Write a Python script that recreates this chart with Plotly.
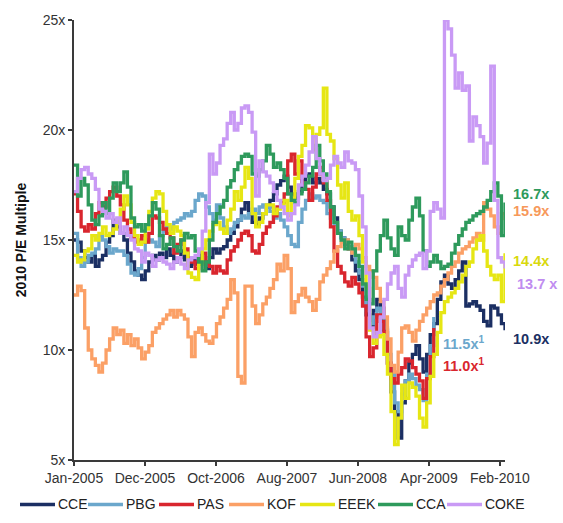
import pandas as pd
import plotly.graph_objects as go

# Semi-monthly sampling of the 2010 forward P/E multiple, Jan-2005 .. Feb-2010
dates = pd.date_range("2005-01-31", "2010-02-26", periods=122)

cce = [15.0, 14.9, 14.5, 14.2, 14.0, 14.3, 13.8, 14.1, 14.3, 14.9, 15.2, 15.9, 15.6, 15.3, 15.0, 14.4,
       14.0, 13.6, 13.4, 13.2, 13.6, 14.0, 14.3, 14.1, 14.4, 14.2, 14.6, 14.3, 14.0, 14.2, 14.5, 14.1,
       13.8, 14.2, 13.9, 14.3, 14.0, 13.7, 14.2, 14.6, 14.4, 14.6, 14.7, 15.0, 15.3, 15.6, 15.9, 16.4,
       16.7, 16.2, 15.8, 15.7, 16.0, 16.2, 16.5, 16.8, 17.1, 17.5, 17.7, 17.9, 17.4, 17.1, 16.9, 17.2,
       17.7, 17.9, 18.0, 17.6, 17.8, 17.6, 17.3, 17.1, 16.5, 16.0, 15.4, 15.1, 14.8, 14.6, 14.1, 13.6,
       13.2, 12.4, 11.6, 11.0, 11.8, 12.3, 11.9, 10.9, 9.4, 8.1, 7.2, 6.0, 7.6, 8.6, 9.4, 9.8,
       10.2, 9.6, 9.0, 9.8, 10.7, 11.2, 12.3, 13.1, 13.4, 13.0, 12.8, 13.2, 13.6, 14.0, 12.0, 12.1,
       12.2, 12.0, 11.8, 11.3, 11.1, 12.0, 11.9, 11.6, 11.2, 10.9]

pbg = [15.3, 14.2, 13.8, 14.0, 14.3, 14.4, 14.6, 15.2, 15.0, 14.7, 14.4, 14.6, 14.5, 14.5, 14.3, 13.9,
       13.5, 13.4, 13.7, 14.2, 14.9, 15.0, 14.9, 14.7, 15.2, 15.4, 15.6, 15.5, 15.8, 15.9, 16.0, 16.2,
       16.1, 16.3, 16.8, 17.1, 17.0, 16.5, 16.2, 15.9, 16.6, 16.0, 15.6, 15.3, 15.5, 15.8, 15.9, 16.1,
       16.0, 16.2, 16.4, 16.2, 16.5, 16.6, 16.5, 16.3, 16.0, 16.2, 15.9, 15.6, 15.2, 14.8, 14.7, 15.8,
       16.4, 16.8, 17.1, 16.9, 17.0, 16.8, 16.7, 16.2, 16.0, 15.7, 15.4, 15.1, 15.0, 14.7, 14.4, 14.0,
       13.5, 12.9, 11.8, 11.2, 11.5, 11.9, 11.6, 11.0, 9.8, 8.9, 7.6, 7.2, 8.0, 8.6, 8.9, 8.7,
       8.4, 8.2, 7.7, 8.9, 10.2, 11.5]

pas = [17.1, 16.3, 15.6, 15.4, 15.7, 15.5, 16.2, 16.7, 16.5, 16.9, 17.2, 17.4, 17.0, 16.6, 15.9, 15.5,
       15.1, 14.9, 15.0, 15.2, 14.9, 15.3, 16.1, 16.0, 15.8, 15.5, 15.3, 15.1, 14.4, 14.8, 15.0, 14.6,
       14.2, 14.0, 13.7, 14.1, 14.4, 14.0, 13.8, 13.5, 13.8, 13.6, 13.5, 14.1, 14.5, 14.7, 15.0, 15.3,
       15.4, 15.2, 14.5, 14.4, 14.8, 15.3, 15.6, 15.8, 16.1, 16.5, 16.7, 17.1, 18.6, 18.9, 18.0, 18.6,
       17.6, 17.3, 16.8, 17.4, 18.0, 18.3, 17.6, 16.8, 15.6, 14.5, 13.8, 13.5, 13.1, 12.9, 13.3, 13.0,
       12.6, 12.0, 10.6, 9.7, 10.1, 11.6, 11.3, 10.8, 9.4, 8.7, 8.5, 8.9, 9.2, 9.6, 9.5, 9.2,
       8.9, 8.6, 7.8, 8.7, 9.7, 11.0]

kof = [12.5, 12.9, 12.7, 11.0, 10.0, 9.6, 9.3, 9.0, 9.4, 10.0, 10.5, 11.0, 10.7, 10.9, 10.3, 10.7,
       10.2, 10.5, 10.1, 9.6, 9.9, 10.2, 10.8, 11.0, 11.2, 11.4, 11.6, 11.8, 11.5, 11.8, 11.6, 11.4,
       10.6, 9.7, 10.8, 11.0, 10.7, 10.4, 10.3, 10.6, 11.2, 11.5, 11.9, 12.3, 13.2, 12.6, 8.8, 8.5,
       12.9, 12.9, 12.0, 11.2, 11.6, 12.1, 12.4, 12.8, 13.2, 13.9, 13.6, 14.3, 13.7, 11.7, 12.2, 12.5,
       12.8, 12.4, 12.2, 11.8, 12.3, 13.1, 13.4, 13.7, 14.0, 14.5, 14.7, 14.9, 15.0, 14.6, 14.4, 14.8,
       14.6, 14.2, 13.8, 13.6, 13.3, 12.8, 12.2, 11.5, 10.5, 9.3, 9.0, 9.9, 11.0, 11.1, 10.8, 10.4,
       10.9, 11.3, 11.6, 11.9, 12.2, 12.5, 12.6, 12.9, 13.2, 13.5, 13.8, 14.0, 14.4, 14.6, 14.7, 14.9,
       15.1, 15.3, 15.0, 16.7, 16.4, 16.1, 15.6, 15.3, 16.2, 15.9]

eeek = [14.3, 14.0, 14.1, 14.5, 14.6, 15.2, 15.0, 15.3, 15.6, 15.2, 15.3, 15.5, 15.9, 16.4, 17.0, 16.6,
        15.8, 15.2, 14.8, 14.9, 15.5, 16.3, 16.9, 17.2, 17.1, 16.3, 15.7, 15.3, 15.6, 15.4, 15.2, 14.4,
        13.5, 13.3, 13.2, 13.9, 14.6, 15.0, 15.4, 15.7, 15.8, 15.5, 15.3, 15.9, 16.4, 17.2, 16.8, 17.4,
        18.3, 17.8, 16.2, 15.6, 15.8, 16.2, 16.6, 16.6, 16.2, 16.4, 16.6, 16.8, 16.1, 16.9, 17.8, 18.8,
        19.3, 20.2, 20.1, 19.1, 19.8, 20.1, 21.9, 19.8, 19.5, 18.7, 17.5, 16.9, 17.6, 16.3, 15.9, 16.1,
        15.2, 14.0, 12.8, 10.9, 10.3, 10.6, 10.7, 9.8, 8.9, 7.2, 5.7, 6.9, 8.4, 7.8, 8.5, 8.3,
        7.9, 6.9, 6.5, 7.6, 8.8, 9.8, 10.8, 11.7, 12.2, 12.4, 12.6, 12.8, 13.1, 13.4, 13.8, 14.0,
        14.6, 15.0, 15.2, 14.5, 13.8, 13.4, 13.2, 13.4, 12.2, 14.4]

cca = [18.4, 17.0, 17.8, 17.5, 16.6, 15.9, 15.7, 16.1, 16.7, 16.2, 16.9, 17.6, 17.2, 17.6, 18.1, 17.4,
       16.0, 15.6, 15.7, 15.4, 15.7, 16.1, 16.7, 16.4, 15.2, 14.6, 14.8, 15.1, 14.7, 14.5, 15.0, 15.3,
       15.1, 15.2, 14.5, 14.0, 13.6, 14.0, 15.0, 15.8, 16.2, 16.5, 16.8, 17.4, 17.7, 18.2, 18.5, 18.8,
       18.9, 18.8, 18.0, 17.9, 18.2, 18.6, 19.3, 18.9, 18.3, 18.5, 18.2, 17.8, 17.1, 16.8, 16.7, 17.1,
       17.3, 17.6, 17.9, 18.3, 19.3, 18.6, 18.0, 17.2, 16.5, 15.8, 15.3, 15.0, 14.6, 14.9, 14.6, 14.3,
       13.8, 13.0, 12.3, 12.1, 13.6, 14.5, 15.2, 15.9, 15.1, 14.6, 14.3, 15.6, 15.2, 15.0, 15.9, 16.5,
       16.9, 16.1, 14.5, 13.8, 14.0, 14.3, 14.0, 13.7, 13.8, 13.9, 14.4, 14.8, 15.2, 15.5, 15.8, 15.9,
       16.1, 16.2, 16.3, 16.5, 16.8, 17.2, 17.6, 17.0, 15.2, 16.7]

coke = [17.2, 17.8, 18.2, 18.3, 18.0, 17.8, 17.3, 16.4, 16.3, 16.0, 16.2, 15.8, 16.0, 15.3, 15.6, 15.2,
        15.0, 14.6, 14.5, 14.0, 14.4, 14.3, 13.8, 14.1, 14.2, 14.0, 13.9, 13.7, 14.0, 14.2, 13.9, 13.7,
        14.1, 14.2, 14.3, 14.6, 15.4, 16.7, 18.9, 18.0, 18.5, 19.3, 19.6, 20.3, 20.8, 20.0, 20.3, 21.0,
        21.1, 20.8, 19.9, 17.0, 18.6, 18.1, 17.9, 17.6, 17.2, 16.8, 16.5, 16.2, 15.9, 16.2, 16.6, 17.5,
        17.9, 18.4, 19.0, 19.7, 18.7, 18.0, 17.7, 17.8, 18.4, 18.8, 18.5, 18.3, 19.0, 18.6, 18.5, 18.2,
        17.0, 15.6, 13.5, 11.0, 10.6, 10.8, 11.5, 12.3, 13.0, 13.5, 13.8, 12.8, 12.4, 13.4, 13.8, 14.1,
        14.3, 14.4, 13.7, 14.5, 16.3, 16.7, 16.4, 16.0, 25.0, 24.6, 23.4, 21.9, 22.6, 21.8, 22.0, 19.5,
        20.6, 20.2, 19.7, 18.5, 19.4, 22.9, 16.8, 14.2, 14.0, 13.7]

names = ["CCE", "PBG", "PAS", "KOF", "EEEK", "CCA", "COKE"]
values = [cce, pbg, pas, kof, eeek, cca, coke]
colors = ["#1B2F63", "#6BA7CC", "#D9262E", "#FBA066", "#E6E614", "#2E9A5C", "#C99AF5"]

# End-of-period multiples printed beside the lines
end_labels = ["10.9x", "11.5x<sup>1</sup>", "11.0x<sup>1</sup>", "15.9x", "14.4x", "16.7x", "13.7 x"]
label_colors = ["#1B2F63", "#6BA7CC", "#D9262E", "#F7995A", "#D9D90C", "#2E9A5C", "#C08CF0"]

y_ticks = [5, 10, 15, 20, 25]
y_tick_text = ["5x", "10x", "15x", "20x", "25x"]
x_tick_dates = ["2005-01-31", "2005-12-02", "2006-10-03", "2007-08-04",
                "2008-06-04", "2009-04-05", "2010-02-04"]
x_tick_text = ["Jan-2005", "Dec-2005", "Oct-2006", "Aug-2007",
               "Jun-2008", "Apr-2009", "Feb-2010"]

FONT = "Arial, Liberation Sans, sans-serif"
W, H = 563, 523
ML, MR, MT, MB = 74, 58, 14, 63
PW, PH = W - ML - MR, H - MT - MB


def px_to_paper_x(px):
    return (px - ML) / PW


def px_to_paper_y(py):
    return (H - MB - py) / PH


fig = go.Figure()
for name, vals, col in zip(names, values, colors):
    fig.add_trace(go.Scatter(
        x=dates[:len(vals)], y=vals, mode="lines", name=name,
        line=dict(color=col, width=3.3, shape="hv"), showlegend=False,
    ))

# label placement in page pixels: (left x, data y)
label_pos = [(511, 10.5), (441, 10.3), (441, 9.3), (511, 16.3),
             (511, 14.05), (511, 17.1), (515, 13.0)]
for text, col, (lx, ly) in zip(end_labels, label_colors, label_pos):
    fig.add_annotation(
        x=px_to_paper_x(lx), y=ly, xref="paper", yref="y", text=text, showarrow=False,
        xanchor="left", yanchor="middle",
        font=dict(family=FONT, size=14.5, color=col, weight="bold"),
    )

# Legend row along the bottom: a line key followed by the series name
legend_left = [20, 88, 159, 229, 300, 378, 447]
legend_y = px_to_paper_y(505)
for name, col, lx in zip(names, colors, legend_left):
    fig.add_shape(
        type="line", xref="paper", yref="paper",
        x0=px_to_paper_x(lx), x1=px_to_paper_x(lx + 35), y0=legend_y, y1=legend_y,
        line=dict(color=col, width=3.5),
    )
    fig.add_annotation(
        x=px_to_paper_x(lx + 36), y=legend_y, xref="paper", yref="paper",
        text=name, showarrow=False, xanchor="left", yanchor="middle",
        font=dict(family=FONT, size=14, color="#222222"),
    )

axis_col = "#3A3A3A"
fig.update_layout(
    width=W, height=H,
    margin=dict(l=ML, r=MR, t=MT, b=MB),
    paper_bgcolor="white", plot_bgcolor="white",
    font=dict(family=FONT, color="#333333"),
    showlegend=False,
    xaxis=dict(
        type="date", range=["2005-01-31", "2010-02-26"],
        tickvals=x_tick_dates, ticktext=x_tick_text, tickangle=0,
        showgrid=False, zeroline=False,
        showline=True, linecolor=axis_col, linewidth=1.8,
        ticks="outside", ticklen=4, tickcolor=axis_col, tickwidth=1.5,
        tickfont=dict(size=14, color="#333333"),
    ),
    yaxis=dict(
        range=[5, 25], tickvals=y_ticks, ticktext=y_tick_text,
        showgrid=False, zeroline=False,
        showline=True, linecolor=axis_col, linewidth=1.8,
        ticks="outside", ticklen=4, tickcolor=axis_col, tickwidth=1.5,
        tickfont=dict(size=14, color="#333333"),
        title=dict(text="<b>2010 P/E Multiple</b>", font=dict(size=14, color="#111111"), standoff=13),
    ),
)

fig.write_html("out.html")
